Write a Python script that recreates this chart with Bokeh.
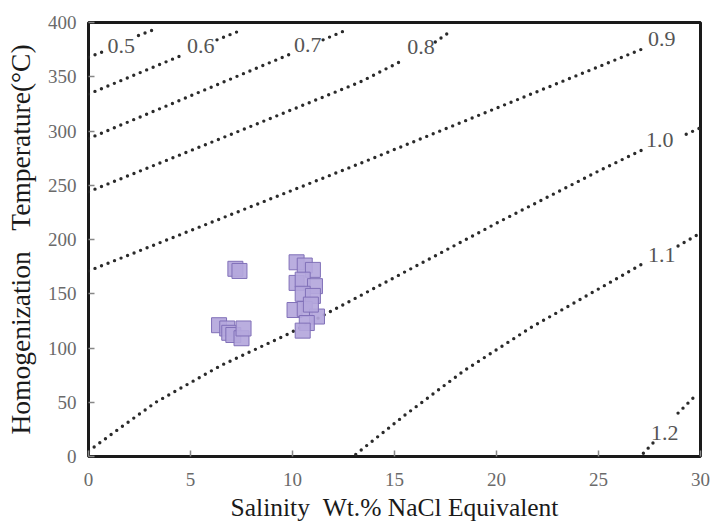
import numpy as np
from bokeh.plotting import figure
from bokeh.models import Range1d, FixedTicker, ColumnDataSource
from bokeh.core.properties import value
from bokeh.embed import file_html
from bokeh.resources import INLINE

nan = float("nan")

# Fluid inclusion data (salinity wt.% NaCl eq, homogenization temperature °C)
salinity = [7.2, 7.4, 6.4, 6.8, 6.9, 7.1, 7.5, 7.6,
            10.2, 10.6, 11.0, 10.2, 10.5, 11.1, 10.5, 11.0, 10.1, 10.6, 11.2, 10.7, 10.5, 10.9]
temperature = [173, 171, 121, 118, 114, 112, 109, 118,
               179, 176, 172, 160, 163, 157, 150, 148, 135, 136, 129, 123, 116, 140]

# Density isopleths (g/cm3); NaN marks the gap left for the label
iso_05_x = [0, 0.7, nan, 2.45, 3.15]
iso_05_y = [368, 373, nan, 388, 393]
iso_06_x = [0, 4.6, nan, 6.3, 7.5]
iso_06_y = [334, 370, nan, 384, 393]
iso_07_x = [0, 9.9, nan, 11.5, 12.5]
iso_07_y = [293, 371, nan, 384, 392]
iso_08_x = [0, 7, 13.3, 15.5, nan, 17.0, 17.6]
iso_08_y = [244, 297, 345, 366, nan, 382, 390]
iso_09_x = [0, 13.3, 27.2]
iso_09_y = [171, 270, 376]
iso_10_x = [0, 1.6, 3.3, 6.5, 9.8, 15.3, 20.2, 25.1, 27.3, nan, 29.3, 30]
iso_10_y = [5, 27, 50, 84, 113, 168, 217, 264, 284, nan, 297, 303]
iso_11_x = [13.1, 15.5, 18.4, 21.7, 27.2, nan, 28.9, 30]
iso_11_y = [2, 38, 79, 119, 178, nan, 194, 206]
iso_12_x = [27.2, 27.8, nan, 28.9, 29.85]
iso_12_y = [3, 15, nan, 40, 58]

iso_labels = ["0.5", "0.6", "0.7", "0.8", "0.9", "1.0", "1.1", "1.2"]
label_x = [1.6, 5.5, 10.75, 16.3, 28.1, 28.0, 28.1, 28.25]
label_y = [378, 378, 379, 377, 385, 292, 186, 22]

x_ticks = [0, 5, 10, 15, 20, 25, 30]
y_ticks = [0, 50, 100, 150, 200, 250, 300, 350, 400]

serif = "Liberation Serif"

p = figure(width=719, height=526, output_backend="svg", toolbar_location=None,
           x_range=Range1d(0, 30), y_range=Range1d(0, 400),
           min_border_left=88, min_border_right=19, min_border_top=22, min_border_bottom=70)
p.background_fill_color = "white"
p.border_fill_color = "white"
p.grid.visible = False
p.outline_line_color = "#1a1a1a"
p.outline_line_width = 3

for ax in (p.xaxis[0], p.yaxis[0]):
    ax.axis_line_color = None
    ax.major_tick_in = 6
    ax.major_tick_out = 0
    ax.minor_tick_line_color = None
    ax.major_tick_line_color = "#888888"
    ax.major_tick_line_width = 1.5
    ax.major_label_text_font = serif
    ax.major_label_text_font_size = "19px"
    ax.major_label_text_color = "#6a6a6a"
    ax.axis_label_text_font = serif
    ax.axis_label_text_font_style = "normal"
    ax.axis_label_text_color = "#1a1a1a"

p.xaxis.ticker = FixedTicker(ticks=x_ticks)
p.yaxis.ticker = FixedTicker(ticks=y_ticks)
p.xaxis.major_label_standoff = 16
p.yaxis.major_label_standoff = 12
p.xaxis.axis_label = "Salinity\u00a0\u00a0Wt.% NaCl Equivalent"
p.yaxis.axis_label = "Homogenization\u00a0\u00a0\u00a0Temperature(\u00b0C)"
p.xaxis.axis_label_text_font_size = "25.5px"
p.yaxis.axis_label_text_font_size = "27.5px"
p.xaxis.axis_label_standoff = 4
p.yaxis.axis_label_standoff = 9

iso_lines = [(iso_05_x, iso_05_y), (iso_06_x, iso_06_y), (iso_07_x, iso_07_y),
             (iso_08_x, iso_08_y), (iso_09_x, iso_09_y), (iso_10_x, iso_10_y),
             (iso_11_x, iso_11_y), (iso_12_x, iso_12_y)]
for xs, ys in iso_lines:
    p.line(x=xs, y=ys, line_color="#2a2a2a", line_width=3.4,
           line_dash="0 7", line_cap="round")

p.text(x=label_x, y=label_y, text=iso_labels, text_font=value(serif),
       text_font_size="22px", text_color="#555555",
       text_align="center", text_baseline="middle")

src = ColumnDataSource(dict(x=salinity, y=temperature))
p.scatter(x="x", y="y", source=src, marker="square", size=15,
          fill_color="#b4a7dc", line_color="#8070b8", line_width=1, fill_alpha=0.92)

open("out.html", "w").write(file_html(p, INLINE))
